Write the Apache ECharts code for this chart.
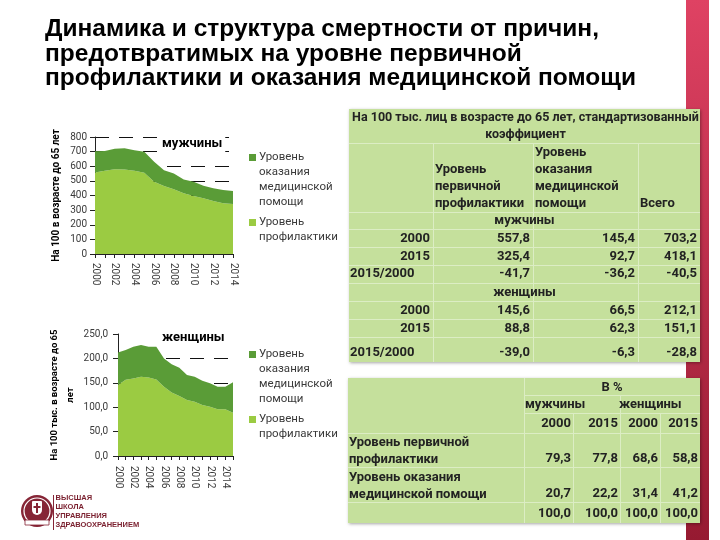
<!DOCTYPE html>
<html><head><meta charset="utf-8">
<script src="https://cdn.jsdelivr.net/npm/echarts@6/dist/echarts.min.js"></script>
<style>html,body{margin:0;padding:0;background:#fff}#c{width:720px;height:540px}</style>
</head><body><div id="c"></div>
<script>
// ---------- DATA ----------
const slideTitle = 'Динамика и структура смертности от причин,\nпредотвратимых на уровне первичной\nпрофилактики и оказания медицинской помощи';
const careName = 'Уровень оказания медицинской помощи';
const prevName = 'Уровень профилактики';
const careLegend = 'Уровень\nоказания\nмедицинской\nпомощи';
const prevLegend = 'Уровень\nпрофилактики\n\n';

const menTitle = 'мужчины';
const menAxisName = 'На 100 в возрасте до 65 лет';
const menYears = ['2000','2001','2002','2003','2004','2005','2006','2007','2008','2009','2010','2011','2012','2013','2014'];
const menPrevention = [557.8,569,580,578,569,555,494,465,442,415,397,381,362,347,342];
const menCare = [145.4,136,140,145,140,145,136,108,109,95,97,86,87,90,88];
const menAxisMax = 800, menAxisStep = 100;

const womenTitle = 'женщины';
const womenAxisName = 'На 100 тыс. в возрасте до 65\nлет';
const womenYears = ['2000','2001','2002','2003','2004','2005','2006','2007','2008','2009','2010','2011','2012','2013','2014','2015'];
const womenPrevention = [145.6,156,159,162.5,161,157,142,130,123,115,111,104.5,101,95.6,95.6,88.8];
const womenCare = [66.5,61,65,65,63,67,58,58,58,51,51.5,49.5,48,46.5,46.5,62.3];
const womenAxisMax = 250, womenAxisStep = 50;

const t1Header = 'На 100 тыс. лиц в возрасте до 65 лет, стандартизованный\nкоэффициент';
const t1Columns = ['Уровень\nпервичной\nпрофилактики', 'Уровень\nоказания\nмедицинской\nпомощи', 'Всего'];
const t1Groups = ['мужчины', 'женщины'];
const t1RowLabels = ['2000', '2015', '2015/2000'];
const t1Men = [[557.8,145.4,703.2],[325.4,92.7,418.1],[-41.7,-36.2,-40.5]];
const t1Women = [[145.6,66.5,212.1],[88.8,62.3,151.1],[-39.0,-6.3,-28.8]];

const t2Header = 'В %';
const t2Groups = ['мужчины', 'женщины'];
const t2Years = ['2000','2015','2000','2015'];
const t2RowLabels = ['Уровень первичной\nпрофилактики', 'Уровень оказания\nмедицинской помощи', ''];
const t2Values = [[79.3,77.8,68.6,58.8],[20.7,22.2,31.4,41.2],[100.0,100.0,100.0,100.0]];

const logoLines = ['ВЫСШАЯ','ШКОЛА','УПРАВЛЕНИЯ','ЗДРАВООХРАНЕНИЕМ'];

// ---------- STYLE ----------
const DARK = '#5a9c37', LIGHT = '#9bcb42';
const TXT = '#222';
const TFONT = 'Roboto';
const fmt = v => v.toFixed(1).replace('.', ',');

function txt(s, x, y, align, vAlign, extra) {
  return {type: 'text', z: 10, style: Object.assign({
    text: s, x: x, y: y, align: align, verticalAlign: vAlign || 'middle',
    fontFamily: TFONT, fontWeight: 'bold', fontSize: 13, lineHeight: 17, fill: TXT
  }, extra || {})};
}
function hline(x1, x2, y) {
  return {type: 'line', z: 9, shape: {x1: x1, y1: y + 0.5, x2: x2, y2: y + 0.5}, style: {stroke: '#dcedc4', lineWidth: 1}};
}
function vline(x, y1, y2) {
  return {type: 'line', z: 9, shape: {x1: x + 0.5, y1: y1, x2: x + 0.5, y2: y2}, style: {stroke: '#dcedc4', lineWidth: 1}};
}

const g = [];
// red bar
g.push({type: 'rect', z: 1, shape: {x: 686, y: 0, width: 23, height: 540},
  style: {fill: new echarts.graphic.LinearGradient(0, 0, 0, 1, [{offset: 0, color: '#df4263'}, {offset: 1, color: '#961a31'}])}});

// ----- Table 1 -----
const T1 = {x: [349, 433, 533, 638, 700], top: 109, rows: [143, 212, 229, 247, 265, 283, 301, 319, 337], bottom: 362};
g.push({type: 'rect', z: 8, shape: {x: T1.x[0], y: T1.top, width: T1.x[4] - T1.x[0], height: T1.bottom - T1.top},
  style: {fill: '#c5e09c', shadowBlur: 3, shadowOffsetX: 1, shadowOffsetY: 1, shadowColor: 'rgba(0,0,0,0.35)'}});
T1.rows.forEach(y => g.push(hline(T1.x[0], T1.x[4], y)));
[1, 2, 3].forEach(i => g.push(vline(T1.x[i], T1.rows[0], T1.bottom)));
g.push(txt(t1Header, (T1.x[0] + T1.x[4]) / 2 + 1, (T1.top + T1.rows[0]) / 2 + 0.5, 'center', 'middle', {fontSize: 12.5}));
t1Columns.forEach((c, i) => g.push(txt(c, T1.x[i + 1] + 2, T1.rows[1], 'left', 'bottom')));
function t1Block(groupName, vals, gRowTop, rowTops, lastBottom) {
  g.push(txt(groupName, (T1.x[0] + T1.x[4]) / 2, (gRowTop + rowTops[0]) / 2 + 0.5, 'center'));
  vals.forEach((row, r) => {
    const top = rowTops[r], bot = r < 2 ? rowTops[r + 1] : lastBottom;
    const last = r === 2;
    const y = last ? bot - 9 : (top + bot) / 2 + 0.5;
    const lab = t1RowLabels[r];
    if (last) g.push(txt(lab, T1.x[0] + 1, y, 'left'));
    else g.push(txt(lab, T1.x[1] - 3, y, 'right'));
    row.forEach((v, c) => g.push(txt(fmt(v), T1.x[c + 2] - 3, y, 'right')));
  });
}
t1Block(t1Groups[0], t1Men, T1.rows[1], [T1.rows[2], T1.rows[3], T1.rows[4]], T1.rows[5]);
t1Block(t1Groups[1], t1Women, T1.rows[5], [T1.rows[6], T1.rows[7], T1.rows[8]], T1.bottom);

// ----- Table 2 -----
const T2 = {x: [348, 524, 573, 620, 660, 700], top: 378, rows: [395, 413, 433, 467, 502], bottom: 523};
g.push({type: 'rect', z: 8, shape: {x: T2.x[0], y: T2.top, width: T2.x[5] - T2.x[0], height: T2.bottom - T2.top},
  style: {fill: '#c5e09c', shadowBlur: 3, shadowOffsetX: 1, shadowOffsetY: 1, shadowColor: 'rgba(0,0,0,0.35)'}});
g.push(hline(T2.x[1], T2.x[5], T2.rows[0]));
g.push(hline(T2.x[1], T2.x[5], T2.rows[1]));
[2, 3, 4].forEach(i => g.push(hline(T2.x[0], T2.x[5], T2.rows[i])));
g.push(vline(T2.x[1], T2.top, T2.bottom));
g.push(vline(T2.x[3], T2.rows[0], T2.bottom));
g.push(vline(T2.x[2], T2.rows[1], T2.bottom));
g.push(vline(T2.x[4], T2.rows[1], T2.bottom));
g.push(txt(t2Header, (T2.x[1] + T2.x[5]) / 2, (T2.top + T2.rows[0]) / 2 + 1, 'center'));
g.push(txt(t2Groups[0], T2.x[1] + 1, (T2.rows[0] + T2.rows[1]) / 2 + 0.5, 'left'));
g.push(txt(t2Groups[1], T2.x[3] - 1, (T2.rows[0] + T2.rows[1]) / 2 + 0.5, 'left'));
t2Years.forEach((yr, i) => g.push(txt(yr, T2.x[i + 2] - 2, (T2.rows[1] + T2.rows[2]) / 2 + 0.5, 'right')));
const t2Bounds = [[T2.rows[2], T2.rows[3]], [T2.rows[3], T2.rows[4]], [T2.rows[4], T2.bottom]];
t2Values.forEach((row, r) => {
  const bot = t2Bounds[r][1];
  const y = r === 2 ? (t2Bounds[r][0] + bot) / 2 + 1.5 : bot - 8;
  if (t2RowLabels[r]) g.push(txt(t2RowLabels[r], T2.x[0] + 1, bot + 1, 'left', 'bottom'));
  row.forEach((v, c) => g.push(txt(fmt(v), T2.x[c + 2] - 2, y, 'right')));
});

// ----- Logo -----
const LR = '#862536';
g.push({type: 'circle', z: 5, shape: {cx: 37, cy: 511, r: 16}, style: {fill: LR}});
g.push({type: 'circle', z: 6, shape: {cx: 37, cy: 511, r: 13}, style: {fill: 'none', stroke: '#fff', lineWidth: 1.2}});
g.push({type: 'rect', z: 6, shape: {x: 32, y: 501, width: 10, height: 14, r: [1, 1, 5, 5]}, style: {fill: '#fff'}});
g.push({type: 'rect', z: 7, shape: {x: 36, y: 503, width: 2, height: 10}, style: {fill: LR}});
g.push({type: 'rect', z: 7, shape: {x: 33.5, y: 506, width: 7, height: 2}, style: {fill: LR}});
g.push({type: 'rect', z: 7, shape: {x: 25, y: 520, width: 24, height: 5}, style: {fill: '#fff', stroke: LR, lineWidth: 0.8}});
g.push({type: 'line', z: 5, shape: {x1: 53.5, y1: 495, x2: 53.5, y2: 530}, style: {stroke: LR, lineWidth: 1}});
logoLines.forEach((s, i) => g.push({type: 'text', z: 5, style: {text: s, x: 55.5, y: 498 + i * 9, verticalAlign: 'middle',
  fontFamily: 'Liberation Sans', fontWeight: 'bold', fontSize: 7.5, fill: '#7a1f2e'}}));

// ---------- CHART ----------
const legendIcon = 'path://M0,4L7,4L7,11L0,11Z M0,0 M7,60';
const legendLabelMap = {};
legendLabelMap[careName] = careLegend;
legendLabelMap[prevName] = prevLegend;

function legend(top) {
  return {orient: 'vertical', left: 249, top: top, padding: 0, itemGap: 5, itemWidth: 7, itemHeight: 60,
    icon: legendIcon, data: [careName, prevName], selectedMode: false,
    itemStyle: {borderWidth: 0},
    formatter: n => legendLabelMap[n],
    textStyle: {fontFamily: 'Roboto', fontSize: 11.5, lineHeight: 15, color: '#3a3a3a', padding: [0, 0, 0, -2]}};
}
function areaSeries(name, data, color, axisIdx, stack) {
  return {type: 'line', name: name, data: data, stack: stack, xAxisIndex: axisIdx, yAxisIndex: axisIdx,
    symbol: 'none', lineStyle: {width: 0, opacity: 0}, itemStyle: {color: color},
    areaStyle: {color: color, opacity: 1}, silent: true};
}
const splitDash = {type: [14, 10], width: 1};

const option = {
  animation: false,
  backgroundColor: '#fff',
  title: [
    {text: slideTitle, left: 45, top: 17, padding: 0,
      textStyle: {fontFamily: 'Liberation Sans', fontWeight: 'bold', fontSize: 24.5, lineHeight: 24.5, color: '#000'}},
    {text: menTitle, left: 159, top: 136, padding: [0, 3], backgroundColor: '#fff',
      textStyle: {fontFamily: 'Roboto', fontWeight: 'bold', fontSize: 13, lineHeight: 16, color: '#000'}},
    {text: womenTitle, left: 159, top: 330, padding: [0, 3], backgroundColor: '#fff',
      textStyle: {fontFamily: 'Roboto', fontWeight: 'bold', fontSize: 13, lineHeight: 16, color: '#000'}}
  ],
  legend: [legend(150), legend(347)],
  grid: [
    {left: 95, top: 137, width: 138, height: 117, containLabel: false},
    {left: 118, top: 334, width: 115, height: 122, containLabel: false}
  ],
  xAxis: [
    {type: 'category', gridIndex: 0, data: menYears, boundaryGap: false,
      axisLine: {lineStyle: {color: '#222', width: 1}},
      axisTick: {interval: 0, length: 4, lineStyle: {color: '#222'}},
      axisLabel: {interval: 1, rotate: -90, margin: 9, fontFamily: 'Roboto', fontSize: 10, color: '#3a3a3a'}},
    {type: 'category', gridIndex: 1, data: womenYears, boundaryGap: false,
      axisLine: {lineStyle: {color: '#222', width: 1}},
      axisTick: {interval: 0, length: 4, lineStyle: {color: '#222'}},
      axisLabel: {interval: 1, rotate: -90, margin: 10, fontFamily: 'Roboto', fontSize: 10, color: '#3a3a3a'}}
  ],
  yAxis: [
    {type: 'value', gridIndex: 0, min: 0, max: menAxisMax, interval: menAxisStep,
      name: menAxisName, nameLocation: 'middle', nameGap: 34, nameRotate: 90,
      nameTextStyle: {fontFamily: 'Roboto', fontWeight: 'bold', fontSize: 10, color: '#000'},
      axisLine: {show: true, lineStyle: {color: '#222'}},
      axisTick: {show: true, length: 5, lineStyle: {color: '#222'}},
      axisLabel: {margin: 8, fontFamily: 'Roboto', fontSize: 10, color: '#3a3a3a'},
      splitLine: {show: true, lineStyle: Object.assign({color: '#111'}, splitDash)}},
    {type: 'value', gridIndex: 1, min: 0, max: womenAxisMax, interval: womenAxisStep,
      name: womenAxisName, nameLocation: 'middle', nameGap: 39, nameRotate: 90,
      nameTextStyle: {fontFamily: 'Roboto', fontWeight: 'bold', fontSize: 9.5, lineHeight: 16, color: '#000'},
      axisLine: {show: true, lineStyle: {color: '#222'}},
      axisTick: {show: true, length: 5, lineStyle: {color: '#222'}},
      axisLabel: {margin: 10, fontFamily: 'Roboto', fontSize: 10, color: '#3a3a3a', formatter: v => fmt(v)},
      splitLine: {show: true, lineStyle: Object.assign({color: ['#111', '#111', '#111', '#111', '#111', 'rgba(0,0,0,0)']}, splitDash)}}
  ],
  series: [
    areaSeries(prevName, menPrevention, LIGHT, 0, 'men'),
    areaSeries(careName, menCare, DARK, 0, 'men'),
    areaSeries(prevName, womenPrevention, LIGHT, 1, 'women'),
    areaSeries(careName, womenCare, DARK, 1, 'women')
  ],
  graphic: {elements: g}
};

const chart = echarts.init(document.getElementById('c'));
chart.setOption(option);
</script>
</body></html>
